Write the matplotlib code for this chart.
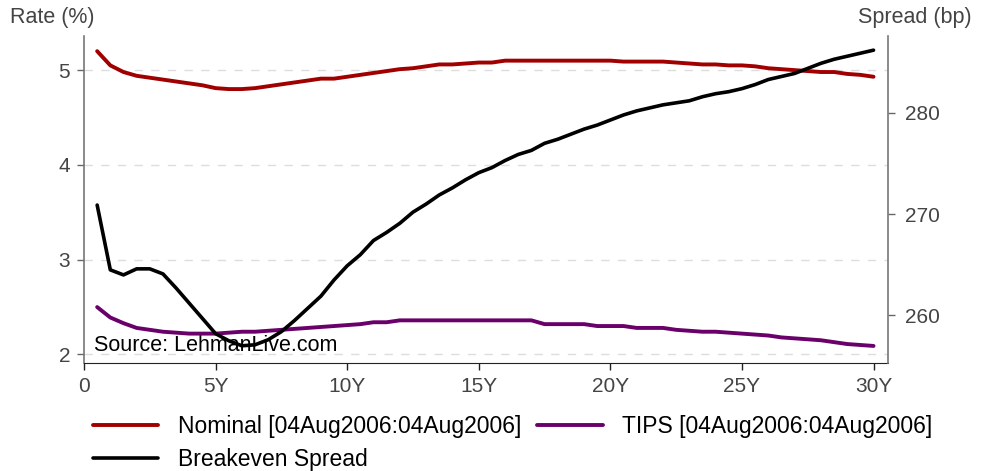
import matplotlib
matplotlib.use("Agg")
import matplotlib.pyplot as plt
import numpy as np

plt.rcParams['font.family'] = ['Liberation Sans', 'DejaVu Sans']

maturity = [0.5, 1.0, 1.5, 2.0, 2.5, 3.0, 3.5, 4.0, 4.5, 5.0,
            5.5, 6.0, 6.5, 7.0, 7.5, 8.0, 8.5, 9.0, 9.5, 10.0,
            10.5, 11.0, 11.5, 12.0, 12.5, 13.0, 13.5, 14.0, 14.5, 15.0,
            15.5, 16.0, 16.5, 17.0, 17.5, 18.0, 18.5, 19.0, 19.5, 20.0,
            20.5, 21.0, 21.5, 22.0, 22.5, 23.0, 23.5, 24.0, 24.5, 25.0,
            25.5, 26.0, 26.5, 27.0, 27.5, 28.0, 28.5, 29.0, 29.5, 30.0]

nominal = [5.20, 5.05, 4.98, 4.94, 4.92, 4.90, 4.88, 4.86, 4.84, 4.81,
           4.80, 4.80, 4.81, 4.83, 4.85, 4.87, 4.89, 4.91, 4.91, 4.93,
           4.95, 4.97, 4.99, 5.01, 5.02, 5.04, 5.06, 5.06, 5.07, 5.08,
           5.08, 5.10, 5.10, 5.10, 5.10, 5.10, 5.10, 5.10, 5.10, 5.10,
           5.09, 5.09, 5.09, 5.09, 5.08, 5.07, 5.06, 5.06, 5.05, 5.05,
           5.04, 5.02, 5.01, 5.00, 4.99, 4.98, 4.98, 4.96, 4.95, 4.93]

tips = [2.50, 2.39, 2.33, 2.28, 2.26, 2.24, 2.23, 2.22, 2.22, 2.22,
        2.23, 2.24, 2.24, 2.25, 2.26, 2.27, 2.28, 2.29, 2.30, 2.31,
        2.32, 2.34, 2.34, 2.36, 2.36, 2.36, 2.36, 2.36, 2.36, 2.36,
        2.36, 2.36, 2.36, 2.36, 2.32, 2.32, 2.32, 2.32, 2.30, 2.30,
        2.30, 2.28, 2.28, 2.28, 2.26, 2.25, 2.24, 2.24, 2.23, 2.22,
        2.21, 2.20, 2.18, 2.17, 2.16, 2.15, 2.13, 2.11, 2.10, 2.09]

spread = [270.9, 264.5, 264.0, 264.6, 264.6, 264.1, 262.7, 261.2, 259.7, 258.2,
          257.5, 257.0, 257.1, 257.6, 258.4, 259.5, 260.7, 261.9, 263.5, 264.9,
          266.0, 267.4, 268.2, 269.1, 270.2, 271.0, 271.9, 272.6, 273.4, 274.1,
          274.6, 275.3, 275.9, 276.3, 277.0, 277.4, 277.9, 278.4, 278.8, 279.3,
          279.8, 280.2, 280.5, 280.8, 281.0, 281.2, 281.6, 281.9, 282.1, 282.4,
          282.8, 283.3, 283.6, 283.9, 284.4, 284.9, 285.3, 285.6, 285.9, 286.2]

x_ticks = [0, 5, 10, 15, 20, 25, 30]
x_labels = ["0", "5Y", "10Y", "15Y", "20Y", "25Y", "30Y"]
left_ticks = [2, 3, 4, 5]
right_ticks = [260, 270, 280]

labels = ["Nominal [04Aug2006:04Aug2006]", "TIPS [04Aug2006:04Aug2006]", "Breakeven Spread"]
colors = ["#a00000", "#6a006a", "#000000"]

fig = plt.figure(figsize=(9.9, 4.71), dpi=100)
ax = fig.add_axes([84/990, 1 - 363/471, (888-84)/990, (363-36)/471])
ax2 = ax.twinx()

tick_color = "#444444"
fs = 15

l1, = ax.plot(maturity, nominal, color=colors[0], lw=2.8, solid_capstyle='round', zorder=3)
l2, = ax.plot(maturity, tips, color=colors[1], lw=2.8, solid_capstyle='round', zorder=3)
l3, = ax2.plot(maturity, spread, color=colors[2], lw=2.6, solid_capstyle='round', zorder=3)

ax.set_xlim(0, 30.55)
ax.set_ylim(1.91, 5.36)
ax2.set_ylim(255.3, 287.6)

ax.set_xticks(x_ticks)
ax.set_xticklabels(x_labels)
ax.set_yticks(left_ticks)
ax2.set_yticks(right_ticks)

for a in (ax, ax2):
    a.spines['top'].set_visible(False)
    a.tick_params(colors="#666666", labelcolor=tick_color, labelsize=fs, length=5, width=1)
ax.spines['right'].set_visible(False)
ax.spines['left'].set_color("#777777")
ax.spines['bottom'].set_color("#222222")
ax2.spines['left'].set_visible(False)
ax2.spines['bottom'].set_visible(False)
ax2.spines['right'].set_color("#777777")
ax.tick_params(axis='x', colors="#222222", labelcolor=tick_color, pad=5)
ax.tick_params(axis='y', pad=5)
ax2.tick_params(axis='y', pad=7)
ax.spines['left'].set_linewidth(1.2)
ax2.spines['right'].set_linewidth(1.2)

ax.yaxis.grid(True, color="#dddddd", linestyle=(0, (6, 6)), linewidth=1)
ax.set_axisbelow(True)

ax.text(0.013, 0.052, "Source: LehmanLive.com", transform=ax.transAxes,
        fontsize=15.5, color="#000000", ha='left', va='center', zorder=1)

fig.text(10/990, 1 - 18/471, "Rate (%)", fontsize=15.5, color=tick_color, ha='left', va='center')
fig.text(972/990, 1 - 18/471, "Spread (bp)", fontsize=15.5, color=tick_color, ha='right', va='center')

fig.legend([l1, l3, l2], [labels[0], labels[2], labels[1]], ncol=2,
           loc='upper left', bbox_to_anchor=(93/990, 1 - 415/471),
           frameon=False, fontsize=16.5, handlelength=2.84, handletextpad=0.87,
           columnspacing=0.7, labelspacing=0.45, borderaxespad=0, borderpad=0)

fig.savefig("out.png", dpi=100)
